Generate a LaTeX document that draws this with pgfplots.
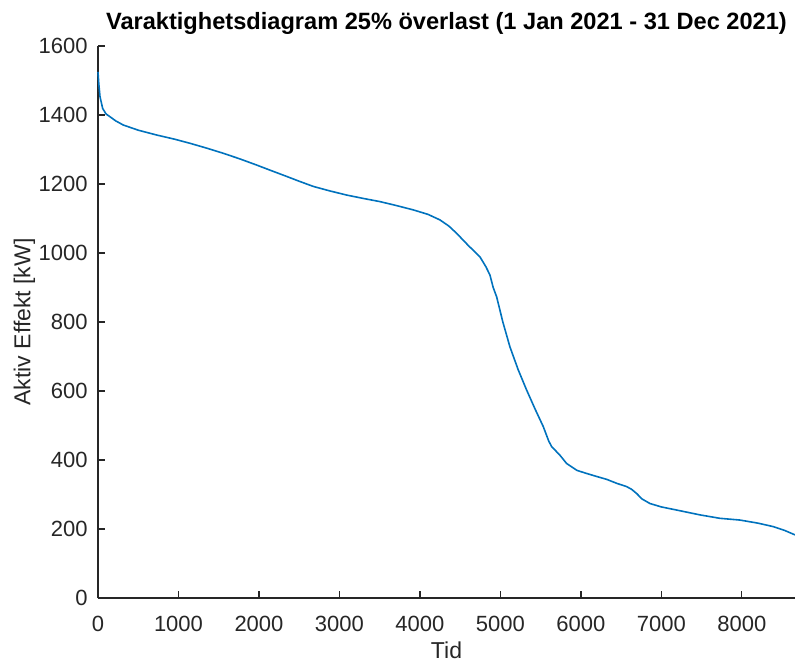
\documentclass[border=0pt]{standalone}
\usepackage{pgfplots}
\pgfplotsset{compat=1.18}
\usepackage{fontspec}
\setmainfont{Liberation Sans}
\definecolor{mblue}{rgb}{0,0.447,0.741}
\definecolor{axgray}{rgb}{0.15,0.15,0.15}
\begin{document}
\begin{tikzpicture}
\begin{axis}[
  at={(0,0)}, anchor=origin,
  scale only axis,
  width=348.5pt, height=276pt,
  xmin=0, xmax=8660, ymin=0, ymax=1600,
  axis x line*=bottom, axis y line*=left,
  axis line style={axgray, line width=0.6pt, -},
  tick style={axgray, line width=0.6pt},
  tick align=inside,
  major tick length=3.5pt,
  xtick={0,1000,...,8000},
  ytick={0,200,...,1600},
  scaled x ticks=false,
  /pgf/number format/assume math mode=true,
  /pgf/number format/set thousands separator={},
  ticklabel style={font=\fontsize{11}{13}\selectfont, text=axgray},
  xticklabel style={anchor=north, inner sep=0pt, yshift=-9pt},
  yticklabel style={anchor=east, inner sep=0pt, xshift=-5pt},
  xlabel={Tid},
  ylabel={Aktiv Effekt [kW]},
  xlabel style={at={(rel axis cs:0.5,-0.0955)}, anchor=center, font=\fontsize{11.5}{13}\selectfont, text=axgray},
  ylabel style={at={(rel axis cs:-0.1055,0.5)}, anchor=center, font=\fontsize{11.5}{13}\selectfont, text=axgray},
  every axis title shift=0pt,
  title={Varaktighetsdiagram 25\% överlast (1 Jan 2021 - 31 Dec 2021)},
  title style={at={(rel axis cs:0.5,1.029)}, anchor=base, font=\bfseries\fontsize{11.8}{13}\selectfont, inner sep=0pt},
  clip=false,
]
\addplot[mblue, line width=0.8pt] coordinates {
(0,1525) (10,1490) (25,1453) (58,1419) (100,1403) (149,1395) (220,1383) (314,1371) (500,1356)
(729,1342) (950,1330) (1143,1318) (1350,1304) (1557,1289) (1760,1273) (1971,1255)
(2150,1239) (2344,1222) (2500,1208) (2675,1193) (2880,1180) (3089,1168) (3300,1158) (3503,1149)
(3700,1138) (3917,1125) (4100,1112) (4248,1096) (4360,1078) (4456,1057) (4600,1022) (4745,989)
(4820,960) (4870,936) (4910,900) (4953,873) (5030,800) (5118,728) (5220,662) (5325,603) (5430,548)
(5532,497) (5600,455) (5636,439) (5739,414) (5822,390) (5950,370) (6071,361) (6200,352) (6319,344)
(6450,332) (6568,323) (6630,315) (6692,303) (6760,287) (6857,274) (7000,264) (7189,255) (7478,241)
(7727,231) (7975,226) (8200,217) (8389,207) (8530,196) (8660,183)
};
\end{axis}
\pgfresetboundingbox
\useasboundingbox (-49pt,-31.5pt) rectangle (348.5pt,299pt);
\end{tikzpicture}
\end{document}
